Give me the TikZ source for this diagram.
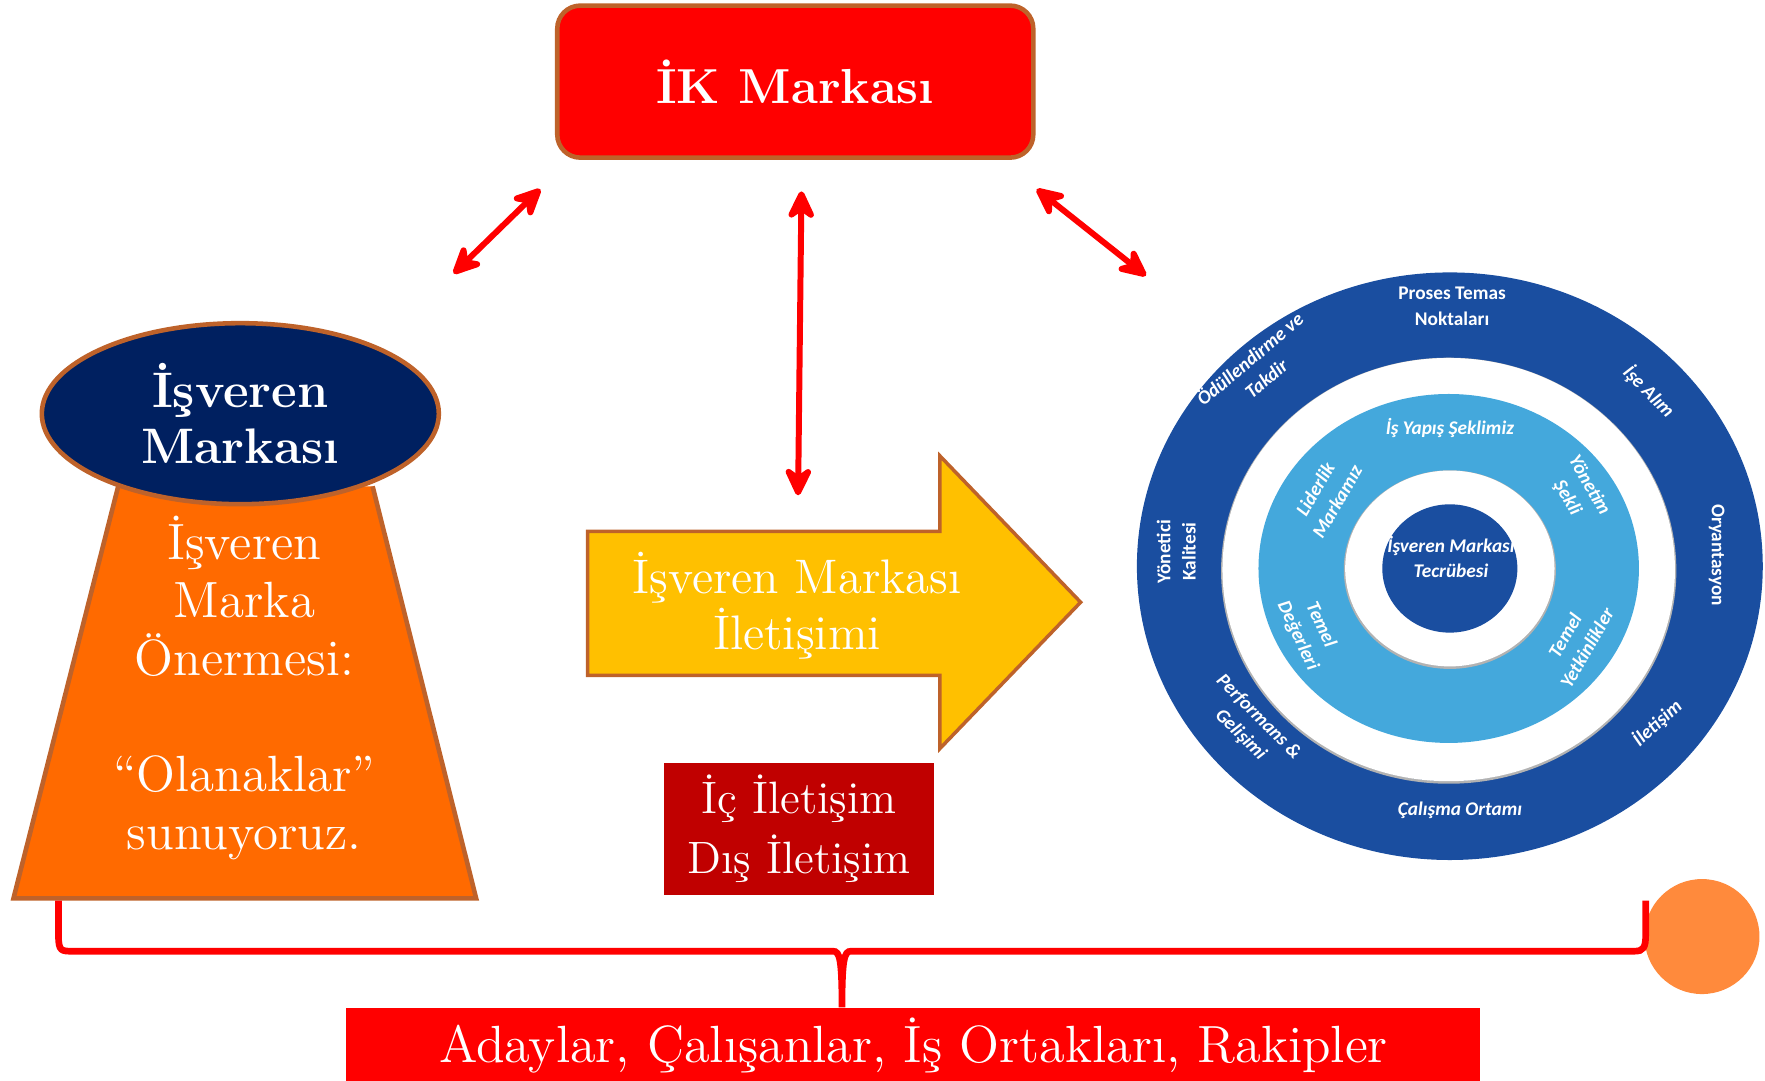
\documentclass[tikz,border=0pt]{standalone}
\usepackage{fontspec}
\newfontfamily\carlito{Carlito}
\usetikzlibrary{arrows.meta,shapes.geometric}
\definecolor{brdr}{RGB}{190,98,42}
\definecolor{navy}{RGB}{0,32,96}
\definecolor{orng}{RGB}{255,106,0}
\definecolor{orngdot}{RGB}{255,138,60}
\definecolor{yel}{RGB}{255,192,0}
\definecolor{dred}{RGB}{192,0,0}
\definecolor{ringd}{RGB}{26,78,160}
\definecolor{ringl}{RGB}{68,168,220}

\begin{document}
\begin{tikzpicture}[x=0.11257mm,y=-0.11257mm,>={Stealth[length=3.6mm,width=3.4mm,inset=1.2mm,round]}]
\tikzstyle link=[line width=1.7pt, red, <->]
\tikzstyle serif=[text=white, align=center, inner sep=0pt]
\tikzstyle ringtxt=[text=white, align=center, inner sep=0pt, font=\carlito\fontsize{5.5}{7.2}\selectfont\bfseries\itshape]
\tikzstyle ringup=[ringtxt, font=\carlito\fontsize{5.5}{7.2}\selectfont\bfseries]
\useasboundingbox (0,0) rectangle (1568,960);

% top box
\node[serif, draw=brdr, line width=1.3pt, fill=red, rounded corners=2.3mm, minimum width=47.6mm, minimum height=15.2mm, font=\fontsize{14}{17}\selectfont\bfseries] (ik) at (706.5,72.5) {İK Markası};

\coordinate (lA) at (403,243);
\coordinate (lB) at (480,168);
\coordinate (mA) at (712,170);
\coordinate (mB) at (709,440);
\coordinate (rA) at (921,168);
\coordinate (rB) at (1018,245);
\draw[link] (lA) -- (lB);
\draw[link] (mA) -- (mB);
\draw[link] (rA) -- (rB);

% left column
\draw[draw=brdr, line width=1.3pt, fill=orng] (105,432) -- (12,798) -- (423,798) -- (331,432);
\node[serif, font=\fontsize{14.5}{16.5}\selectfont] (prop) at (217,611) {İşveren\\Marka\\Önermesi:\\[16.5pt]“Olanaklar”\\sunuyoruz.};
\node[serif, ellipse, draw=brdr, line width=1.3pt, fill=navy, minimum width=39.7mm, minimum height=18.1mm, font=\fontsize{14.2}{16}\selectfont\bfseries] (emp) at (213.5,367.5) {İşveren\\Markası};

% middle
\draw[draw=brdr, line width=1pt, fill=yel] (522,472) -- (835,472) -- (835,405) -- (960,535) -- (835,665) -- (835,600) -- (522,600) -- cycle;
\node[serif, font=\fontsize{13.8}{16}\selectfont] (comm) at (708,538) {İşveren Markası\\İletişimi};
\node[serif, fill=dred, minimum width=27.0mm, minimum height=13.2mm, font=\fontsize{12.9}{17}\selectfont] (chan) at (710,736.5) {İç İletişim\\Dış İletişim};

% circles
\fill[ringd] (1288,503) ellipse [x radius=278, y radius=261];
\draw[black!30, line width=0.8pt] (1287,507) ellipse [x radius=201, y radius=188];
\fill[white] (1287,506) ellipse [x radius=201, y radius=188];
\fill[ringl] (1287,505) ellipse [x radius=169, y radius=155];
\draw[black!30, line width=0.8pt] (1288,506) ellipse [x radius=93, y radius=87];
\fill[white] (1288,505) ellipse [x radius=93, y radius=87];
\fill[ringd] (1288,505) ellipse [x radius=60, y radius=57];

\node[ringup] (pt) at (1290,272) {Proses Temas\\Noktaları};
\node[ringtxt, rotate=40] (od) at (1117,327) {Ödüllendirme ve\\Takdir};
\node[ringtxt, rotate=-45] (ia) at (1465,348) {İşe Alım};
\node[ringup, rotate=-90] (or) at (1525,493) {Oryantasyon};
\node[ringtxt, rotate=42] (il) at (1472,642) {İletişim};
\node[ringtxt] (co) at (1297,720) {Çalışma Ortamı};
\node[ringtxt, rotate=-45] (pg) at (1110,645) {Performans \&\\Gelişimi};
\node[ringup, rotate=90] (yk) at (1045,490) {Yönetici\\Kalitesi};
\node[ringtxt] (iy) at (1288,380) {İş Yapış Şeklimiz};
\node[ringtxt, rotate=60] (lm) at (1178,440) {Liderlik\\Markamız};
\node[ringtxt, rotate=-60] (ys) at (1402,437) {Yönetim\\Şekli};
\node[ringtxt, rotate=-65] (td) at (1163,560) {Temel\\Değerleri};
\node[ringtxt, rotate=60] (ty) at (1400,570) {Temel\\Yetkinlikler};
\node[ringtxt] (tc) at (1289,495) {İşveren Markası\\Tecrübesi};

% brace and bottom
\node[circle, fill=orngdot, minimum size=11.5mm, inner sep=0pt] (dot) at (1512,832) {};
\node[serif, fill=red, minimum width=113.4mm, minimum height=7.4mm, anchor=north, font=\fontsize{14.9}{17}\selectfont] (aud) at (811.5,895) {Adaylar, Çalışanlar, İş Ortakları, Rakipler};
\coordinate (bL) at (52,800);
\coordinate (bR) at (1462,800);
\coordinate (bM) at (748,895);
\draw[red, line width=1.9pt] (bL) -- (52,832) .. controls (52,845) and (55,845) .. (64,845) -- (740,845) .. controls (746,845) and (748,852) .. (bM) .. controls (748,852) and (750,845) .. (756,845) -- (1452,845) .. controls (1460,845) and (1462,842) .. (1462,830) -- (bR);
\end{tikzpicture}
\end{document}
